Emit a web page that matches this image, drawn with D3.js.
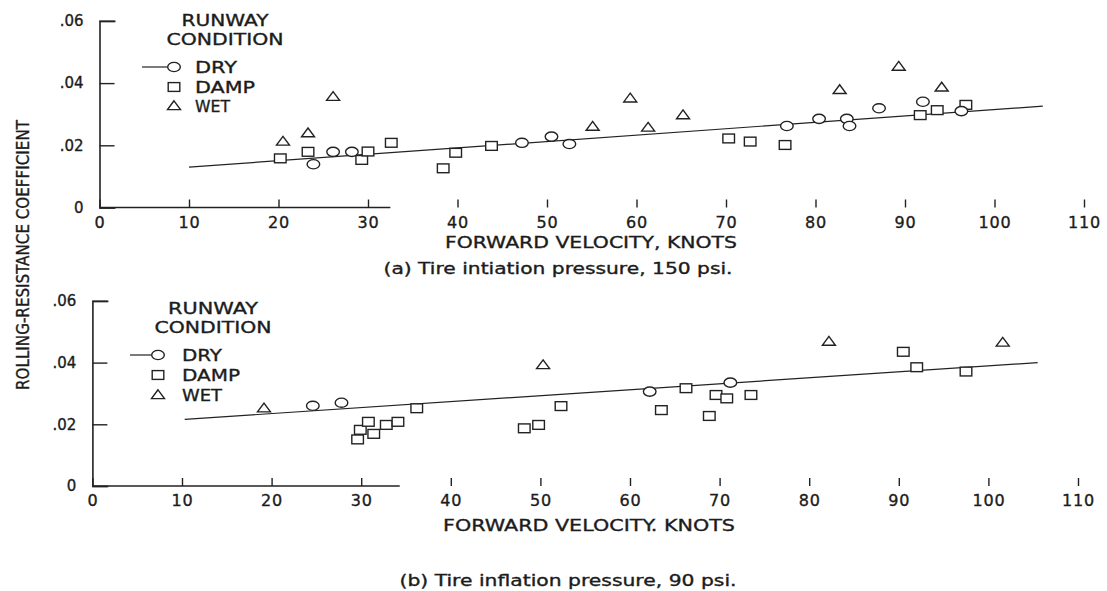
<!DOCTYPE html>
<html>
<head>
<meta charset="utf-8">
<script src="https://cdn.jsdelivr.net/npm/d3@7"></script>
<style>
  body { margin: 0; background: #fff; }
  svg { display: block; }
  text { font-family: "DejaVu Sans", "Liberation Sans", sans-serif; fill: #1c1c1c; stroke: #1c1c1c; stroke-width: 0.35px; }
</style>
</head>
<body>
<svg id="chart" width="1107" height="591"></svg>
<script>
// ---- data -------------------------------------------------------------
const velocityTicks = [0, 10, 20, 30, 40, 50, 60, 70, 80, 90, 100, 110];
const coeffTicks = [0, 0.02, 0.04, 0.06];
const coeffTickLabels = ["0", ".02", ".04", ".06"];
const legendTitle = ["RUNWAY", "CONDITION"];
const legendLabels = ["DRY", "DAMP", "WET"];
const yTitle = "ROLLING-RESISTANCE COEFFICIENT";

// (a) 150 psi: [forward velocity (knots), rolling-resistance coefficient]
const dryA = [[23.9, 0.0139], [26.1, 0.0179], [28.2, 0.0179], [47.2, 0.0208], [50.5, 0.0228],
  [52.5, 0.0204], [76.8, 0.0262], [80.4, 0.0285], [83.5, 0.0285], [83.8, 0.0262],
  [87.1, 0.0319], [92.0, 0.0340], [96.3, 0.0310]];
const dampA = [[20.2, 0.0158], [23.3, 0.0179], [29.3, 0.0153], [30.0, 0.0180], [32.6, 0.0208],
  [38.4, 0.0126], [39.8, 0.0176], [43.8, 0.0198], [70.3, 0.0222], [72.7, 0.0212],
  [76.6, 0.0201], [91.7, 0.0297], [93.6, 0.0313], [96.8, 0.0330]];
const wetA = [[20.5, 0.0212], [23.3, 0.0239], [26.1, 0.0356], [55.1, 0.0260], [59.3, 0.0351],
  [61.3, 0.0257], [65.2, 0.0297], [82.7, 0.0378], [89.3, 0.0453], [94.1, 0.0386]];
const fitA = [[10, 0.0130], [105.4, 0.0326]];

// (b) 90 psi
const dryB = [[24.6, 0.0260], [27.8, 0.0270], [62.2, 0.0306], [71.2, 0.0335]];
const dampB = [[29.6, 0.0151], [29.9, 0.0182], [30.8, 0.0208], [31.4, 0.0169], [32.8, 0.0198],
  [34.1, 0.0208], [36.2, 0.0252], [48.2, 0.0187], [49.8, 0.0198], [52.3, 0.0259],
  [63.5, 0.0246], [66.25, 0.0317], [68.85, 0.0227], [69.6, 0.0295], [70.8, 0.0284],
  [73.5, 0.0295], [90.5, 0.0435], [92.0, 0.0385], [97.5, 0.0371]];
const wetB = [[19.15, 0.0252], [50.3, 0.0392], [82.2, 0.0468], [101.6, 0.0465]];
const fitB = [[10.3, 0.0216], [105.5, 0.0400]];

// ---- layout -----------------------------------------------------------
const panels = [
  {
    dry: dryA, damp: dampA, wet: wetA, fit: fitA,
    xRange: [99.5, 1084], yRange: [207.5, 20.9], baseEnd: 32.5,
    xTitle: "FORWARD VELOCITY, KNOTS", xTitlePos: [591, 242], xTitleLen: 292,
    caption: "(a) Tire intiation pressure, 150 psi.", captionPos: [558, 268], captionLen: 349,
    legend: { cx: 225, titleY: [20, 39], titleLen: [87, 117], rowY: [67, 87, 106],
              markX: 174, lineX0: 142, textX: 195, textLen: [42, 60, 35] }
  },
  {
    dry: dryB, damp: dampB, wet: wetB, fit: fitB,
    xRange: [92.4, 1078], yRange: [486, 300.9], baseEnd: 34.3,
    xTitle: "FORWARD VELOCITY. KNOTS", xTitlePos: [589, 525], xTitleLen: 292,
    caption: "(b) Tire inflation pressure, 90 psi.", captionPos: [568, 580], captionLen: 337,
    legend: { cx: 213, titleY: [308, 327], titleLen: [90, 117], rowY: [355, 375, 395],
              markX: 158, lineX0: 130, textX: 182, textLen: [40, 58, 40] }
  }
];

const ink = "#222";
const svg = d3.select("#chart");

// marker shapes: open ellipse, open square, open triangle
function drawMarker(g, kind, cx, cy) {
  if (kind === "dry") {
    g.append("ellipse").attr("cx", cx).attr("cy", cy).attr("rx", 6.3).attr("ry", 4.6);
  } else if (kind === "damp") {
    g.append("rect").attr("x", cx - 5.8).attr("y", cy - 4.4).attr("width", 11.6).attr("height", 8.8);
  } else {
    g.append("path").attr("d", `M${cx},${cy - 5.2}L${cx + 6.5},${cy + 3.6}L${cx - 6.5},${cy + 3.6}Z`);
  }
}

panels.forEach(p => {
  const x = d3.scaleLinear().domain([0, 110]).range(p.xRange);
  const y = d3.scaleLinear().domain([0, 0.06]).range(p.yRange);
  const g = svg.append("g");

  // x axis: ticks point up, baseline drawn separately
  const xAxis = g.append("g")
    .attr("transform", `translate(0,${y(0)})`)
    .call(d3.axisBottom(x).tickValues(velocityTicks).tickFormat(d3.format("d"))
      .tickSizeInner(-8).tickSizeOuter(0).tickPadding(9));
  xAxis.select(".domain").remove();
  xAxis.attr("font-family", null).attr("font-size", 16);
  xAxis.selectAll("line").attr("stroke", ink).attr("stroke-width", 1.4);
  xAxis.selectAll("text").attr("fill", ink).style("letter-spacing", "0.8px");

  g.append("line")
    .attr("x1", x(0)).attr("x2", x(p.baseEnd))
    .attr("y1", y(0)).attr("y2", y(0))
    .attr("stroke", ink).attr("stroke-width", 1.6);

  // y axis: ticks point into the plot
  const yAxis = g.append("g")
    .attr("transform", `translate(${x(0)},0)`)
    .call(d3.axisLeft(y).tickValues(coeffTicks).tickFormat((d, i) => coeffTickLabels[i])
      .tickSizeInner(-15).tickSizeOuter(-16).tickPadding(16));
  yAxis.attr("font-family", null).attr("font-size", 15);
  yAxis.select(".domain").attr("stroke", ink).attr("stroke-width", 1.6);
  yAxis.selectAll("line").attr("stroke", ink).attr("stroke-width", 1.4);
  yAxis.selectAll("text").attr("fill", ink);

  // fitted line
  const line = d3.line().x(d => x(d[0])).y(d => y(d[1]));
  g.append("path").datum(p.fit).attr("d", line)
    .attr("fill", "none").attr("stroke", ink).attr("stroke-width", 1.2);

  // data points
  const pts = g.append("g").attr("fill", "#fff").attr("stroke", ink).attr("stroke-width", 1.4);
  [["damp", p.damp], ["dry", p.dry], ["wet", p.wet]].forEach(([kind, arr]) => {
    arr.forEach(d => drawMarker(pts, kind, x(d[0]), y(d[1])));
  });

  // axis title and caption
  g.append("text").attr("x", p.xTitlePos[0]).attr("y", p.xTitlePos[1]).attr("dy", "0.36em")
    .attr("text-anchor", "middle").attr("font-size", 16.5)
    .attr("textLength", p.xTitleLen).attr("lengthAdjust", "spacingAndGlyphs").text(p.xTitle);
  g.append("text").attr("x", p.captionPos[0]).attr("y", p.captionPos[1]).attr("dy", "0.36em")
    .attr("text-anchor", "middle").attr("font-size", 15.5)
    .attr("textLength", p.captionLen).attr("lengthAdjust", "spacingAndGlyphs").text(p.caption);

  // legend
  const L = p.legend;
  const lg = g.append("g");
  legendTitle.forEach((t, i) => {
    lg.append("text").attr("x", L.cx).attr("y", L.titleY[i]).attr("dy", "0.36em")
      .attr("text-anchor", "middle").attr("font-size", 16)
      .attr("textLength", L.titleLen[i]).attr("lengthAdjust", "spacingAndGlyphs").text(t);
  });
  lg.append("line").attr("x1", L.lineX0).attr("x2", L.markX - 6.3)
    .attr("y1", L.rowY[0]).attr("y2", L.rowY[0]).attr("stroke", ink).attr("stroke-width", 1.2);
  const lm = lg.append("g").attr("fill", "#fff").attr("stroke", ink).attr("stroke-width", 1.4);
  ["dry", "damp", "wet"].forEach((kind, i) => {
    drawMarker(lm, kind, L.markX, L.rowY[i]);
    lg.append("text").attr("x", L.textX).attr("y", L.rowY[i]).attr("dy", "0.36em")
      .attr("font-size", 16)
      .attr("textLength", L.textLen[i]).attr("lengthAdjust", "spacingAndGlyphs").text(legendLabels[i]);
  });
});

// shared y-axis title
svg.append("text")
  .attr("transform", "translate(22,255) rotate(-90)")
  .attr("dy", "0.36em")
  .attr("text-anchor", "middle")
  .attr("font-size", 18.5)
  .style("font-family", "'DejaVu Sans Condensed', 'Liberation Sans Narrow', 'DejaVu Sans', sans-serif")
  .attr("textLength", 270).attr("lengthAdjust", "spacingAndGlyphs")
  .text(yTitle);
</script>
</body>
</html>
